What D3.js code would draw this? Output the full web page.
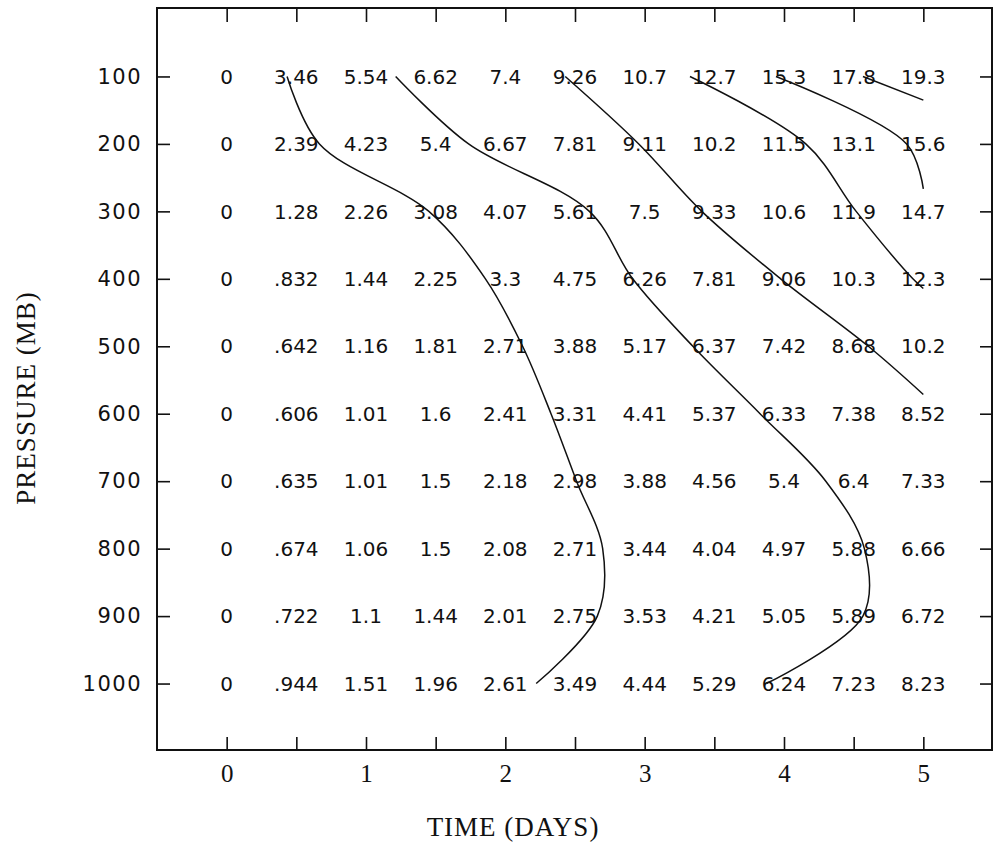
<!DOCTYPE html>
<html>
<head>
<meta charset="utf-8">
<script src="https://cdn.jsdelivr.net/npm/d3@7"></script>
<style>
  body { margin: 0; background: #fff; }
  svg { display: block; }
  .grid-num { font-family: "DejaVu Sans", sans-serif; font-size: 20px; fill: #111; }
  .left-axis text { font-family: "DejaVu Sans", sans-serif; font-size: 21px; letter-spacing: 1.5px; fill: #111; }
  .bottom-axis text { font-family: "Liberation Serif", serif; font-size: 25px; fill: #111; }
  .axis-title { font-family: "Liberation Serif", serif; font-size: 27px; letter-spacing: 1px; fill: #111; }
</style>
</head>
<body>
<script>
// time (days) columns and pressure (mb) rows
const times = [0, 0.5, 1, 1.5, 2, 2.5, 3, 3.5, 4, 4.5, 5]
const pressures = [100, 200, 300, 400, 500, 600, 700, 800, 900, 1000]
const xTicks = [0, 0.5, 1, 1.5, 2, 2.5, 3, 3.5, 4, 4.5, 5]

const row100 = [0, 3.46, 5.54, 6.62, 7.4, 9.26, 10.7, 12.7, 15.3, 17.8, 19.3]
const row200 = [0, 2.39, 4.23, 5.4, 6.67, 7.81, 9.11, 10.2, 11.5, 13.1, 15.6]
const row300 = [0, 1.28, 2.26, 3.08, 4.07, 5.61, 7.5, 9.33, 10.6, 11.9, 14.7]
const row400 = [0, 0.832, 1.44, 2.25, 3.3, 4.75, 6.26, 7.81, 9.06, 10.3, 12.3]
const row500 = [0, 0.642, 1.16, 1.81, 2.71, 3.88, 5.17, 6.37, 7.42, 8.68, 10.2]
const row600 = [0, 0.606, 1.01, 1.6, 2.41, 3.31, 4.41, 5.37, 6.33, 7.38, 8.52]
const row700 = [0, 0.635, 1.01, 1.5, 2.18, 2.98, 3.88, 4.56, 5.4, 6.4, 7.33]
const row800 = [0, 0.674, 1.06, 1.5, 2.08, 2.71, 3.44, 4.04, 4.97, 5.88, 6.66]
const row900 = [0, 0.722, 1.1, 1.44, 2.01, 2.75, 3.53, 4.21, 5.05, 5.89, 6.72]
const row1000 = [0, 0.944, 1.51, 1.96, 2.61, 3.49, 4.44, 5.29, 6.24, 7.23, 8.23]

// isolines drawn through the table
const levels = [3, 6, 9, 12, 15, 18]

const grid = [row100, row200, row300, row400, row500, row600, row700, row800, row900, row1000]

const width = 994, height = 852
const frame = { left: 157, right: 992, top: 8, bottom: 750 }

const svg = d3.select('body').append('svg')
  .attr('width', width)
  .attr('height', height)

const x = d3.scaleLinear().domain([-0.5, 5.5]).range([frame.left, frame.right + 1])
const y = d3.scaleLinear().domain([0, 1100]).range([frame.top + 1, frame.bottom + 1])

// numbers in the table
const fmt = v => String(v).replace(/^0\./, '.')
const cells = grid.flatMap((row, i) => row.map((v, j) => ({ t: times[j], p: pressures[i], v })))

svg.append('g').selectAll('text')
  .data(cells)
  .enter().append('text')
  .attr('class', 'grid-num')
  .attr('x', d => x(d.t))
  .attr('y', d => y(d.p))
  .attr('dy', '0.36em')
  .attr('text-anchor', 'middle')
  .text(d => fmt(d.v))

// where each level crosses the rows (or leaves through the last column)
function contourPoints(level) {
  const pts = []
  const last = times.length - 1
  for (let i = 0; i < pressures.length; i++) {
    const row = grid[i]
    const j = row.findIndex(v => v >= level)
    if (j > 0) {
      const f = (level - row[j - 1]) / (row[j] - row[j - 1])
      pts.push([times[j - 1] + f * (times[j] - times[j - 1]), pressures[i]])
    } else {
      if (i > 0) {
        const a = grid[i - 1][last], b = row[last]
        const f = (a - level) / (a - b)
        pts.push([times[last], pressures[i - 1] + f * (pressures[i] - pressures[i - 1])])
      }
      break
    }
  }
  return pts
}

const line = d3.line()
  .x(d => x(d[0]))
  .y(d => y(d[1]))
  .curve(d3.curveCatmullRom.alpha(0.5))

svg.append('g').selectAll('path')
  .data(levels.map(contourPoints))
  .enter().append('path')
  .attr('d', line)
  .attr('fill', 'none')
  .attr('stroke', '#111')
  .attr('stroke-width', 1.5)

// axes, ticks pointing inward on all four sides
const styleAxis = g => {
  g.select('.domain').remove()
  g.selectAll('.tick line').attr('stroke', '#111').attr('stroke-width', 1.6)
}

svg.append('g')
  .attr('class', 'bottom-axis')
  .attr('transform', `translate(0,${frame.bottom})`)
  .call(d3.axisBottom(x).tickValues(xTicks)
    .tickFormat(d => Number.isInteger(d) ? d : '')
    .tickSizeInner(-13).tickSizeOuter(0).tickPadding(14))
  .call(styleAxis)

svg.append('g')
  .attr('transform', `translate(0,${frame.top})`)
  .call(d3.axisTop(x).tickValues(xTicks).tickFormat('')
    .tickSizeInner(-14).tickSizeOuter(0))
  .call(styleAxis)

svg.append('g')
  .attr('class', 'left-axis')
  .attr('transform', `translate(${frame.left},0)`)
  .call(d3.axisLeft(y).tickValues(pressures).tickFormat(d3.format('d'))
    .tickSizeInner(-13).tickSizeOuter(0).tickPadding(15))
  .call(styleAxis)

svg.append('g')
  .attr('transform', `translate(${frame.right},0)`)
  .call(d3.axisRight(y).tickValues(pressures).tickFormat('')
    .tickSizeInner(-12).tickSizeOuter(0))
  .call(styleAxis)

svg.append('rect')
  .attr('x', frame.left)
  .attr('y', frame.top)
  .attr('width', frame.right - frame.left)
  .attr('height', frame.bottom - frame.top)
  .attr('fill', 'none')
  .attr('stroke', '#111')
  .attr('stroke-width', 2)

svg.append('text')
  .attr('class', 'axis-title')
  .attr('x', 513)
  .attr('y', 836)
  .attr('text-anchor', 'middle')
  .text('TIME (DAYS)')

svg.append('text')
  .attr('class', 'axis-title')
  .attr('transform', 'translate(35,398) rotate(-90)')
  .attr('text-anchor', 'middle')
  .text('PRESSURE (MB)')
</script>
</body>
</html>
